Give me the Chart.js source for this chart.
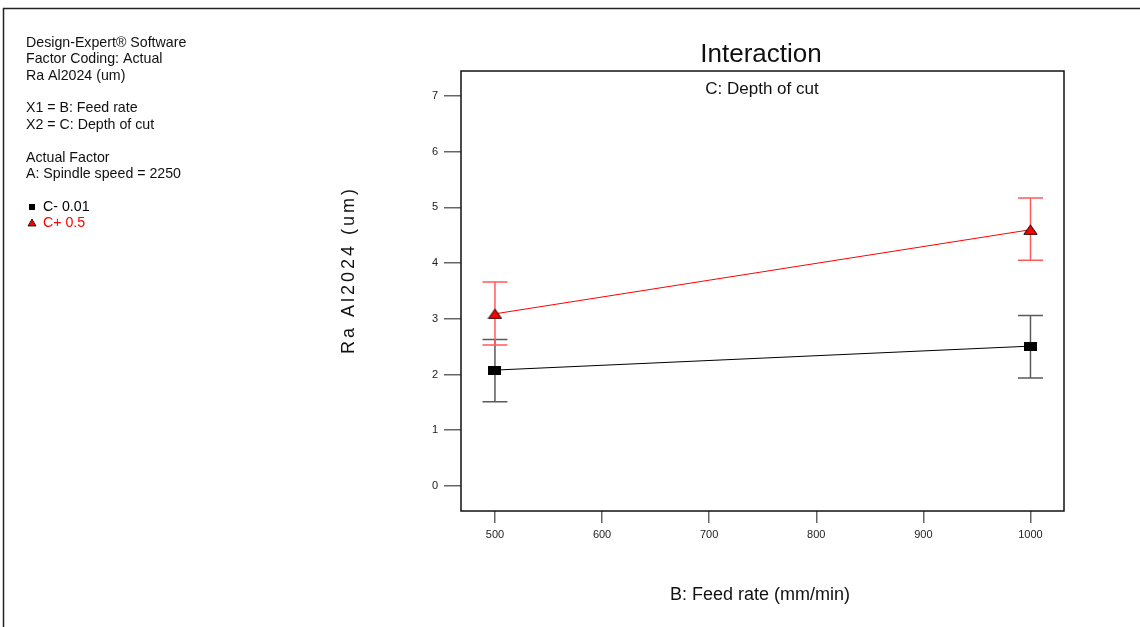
<!DOCTYPE html>
<html>
<head>
<meta charset="utf-8">
<script src="https://cdn.jsdelivr.net/npm/chart.js"></script>
<style>
  html, body { margin: 0; padding: 0; background: #fff; }
  canvas { display: block; }
</style>
</head>
<body>
<canvas id="chart" width="1140" height="627"></canvas>
<script>
'use strict';

// Factor levels (B: Feed rate) and predicted means with LSD bars
var feedRate = [500, 1000];
var cLowMean = [2.08, 2.51];
var cLowLower = [1.51, 1.94];
var cLowUpper = [2.63, 3.06];
var cHighMean = [3.09, 4.60];
var cHighLower = [2.53, 4.05];
var cHighUpper = [3.66, 5.17];

var xTicks = [500, 600, 700, 800, 900, 1000];
var yTicks = [0, 1, 2, 3, 4, 5, 6, 7];

var infoLines = [
  'Design-Expert\u00AE Software',
  'Factor Coding: Actual',
  'Ra Al2024 (um)',
  '',
  'X1 = B: Feed rate',
  'X2 = C: Depth of cut',
  '',
  'Actual Factor',
  'A: Spindle speed = 2250'
];

var FONT = '"Liberation Sans", Arial, Helvetica, sans-serif';

// marker images, the original markers are a bit wider than tall
var makeSquare = function() {
  var c = document.createElement('canvas');
  c.width = 13; c.height = 9;
  var g = c.getContext('2d');
  g.fillStyle = '#000';
  g.fillRect(0, 0, 13, 9);
  return c;
};

var makeTriangle = function() {
  var c = document.createElement('canvas');
  c.width = 15; c.height = 11;
  var g = c.getContext('2d');
  g.beginPath();
  g.moveTo(7.5, 0.8);
  g.lineTo(14.2, 10.3);
  g.lineTo(0.8, 10.3);
  g.closePath();
  g.fillStyle = '#ff0000';
  g.fill();
  g.strokeStyle = '#000';
  g.lineWidth = 1;
  g.stroke();
  return c;
};

var toPoints = function(ys) {
  return feedRate.map(function(x, i) { return { x: x, y: ys[i] }; });
};

/**
 * Error bars drawn from the data arrays through the chart scales.
 */
var errorBarPlugin = {
  id: 'errorBars',
  beforeDatasetsDraw: function(chart) {
    var ctx = chart.ctx;
    var xs = chart.scales.x;
    var ys = chart.scales.y;
    var bars = [
      { lo: cLowLower, hi: cLowUpper, color: '#5a5a5a' },
      { lo: cHighLower, hi: cHighUpper, color: '#ff5a5a' }
    ];
    ctx.save();
    ctx.lineWidth = 1.5;
    bars.forEach(function(b) {
      ctx.strokeStyle = b.color;
      feedRate.forEach(function(fr, i) {
        var px = xs.getPixelForValue(fr);
        var top = ys.getPixelForValue(b.hi[i]);
        var bot = ys.getPixelForValue(b.lo[i]);
        ctx.beginPath();
        ctx.moveTo(px, top); ctx.lineTo(px, bot);
        ctx.moveTo(px - 12.5, top); ctx.lineTo(px + 12.5, top);
        ctx.moveTo(px - 12.5, bot); ctx.lineTo(px + 12.5, bot);
        ctx.stroke();
      });
    });
    ctx.restore();
  }
};

/**
 * Frame, titles and the information block on the left.
 */
var decorPlugin = {
  id: 'decor',
  afterDraw: function(chart) {
    var ctx = chart.ctx;
    var a = chart.chartArea;
    ctx.save();

    // outer frame
    ctx.strokeStyle = '#222';
    ctx.lineWidth = 1.5;
    ctx.strokeRect(3.5, 8.5, chart.width + 20, chart.height + 20);

    // plot frame
    ctx.strokeStyle = '#111';
    ctx.lineWidth = 1.5;
    ctx.strokeRect(a.left, a.top, a.right - a.left, a.bottom - a.top);

    ctx.fillStyle = '#111';
    ctx.textAlign = 'center';
    ctx.textBaseline = 'middle';
    ctx.font = '26px ' + FONT;
    ctx.fillText('Interaction', 761, 55);
    ctx.font = '17px ' + FONT;
    ctx.fillText('C: Depth of cut', 762, 89);
    ctx.font = '18px ' + FONT;
    ctx.fillText('B: Feed rate (mm/min)', 760, 595);

    // y title, letter spaced
    ctx.save();
    ctx.translate(349, 270);
    ctx.rotate(-Math.PI / 2);
    ctx.font = '18px ' + FONT;
    ctx.letterSpacing = '3px';
    ctx.fillText('Ra Al2024 (um)', 0, 0);
    ctx.restore();

    // info block
    ctx.textAlign = 'left';
    ctx.font = '14.2px ' + FONT;
    var lineY = [43, 59, 76, 0, 108, 125, 0, 158, 174];
    infoLines.forEach(function(t, i) {
      if (t) ctx.fillText(t, 26, lineY[i]);
    });

    // legend
    ctx.fillStyle = '#000';
    ctx.fillRect(29, 204, 6, 6);
    ctx.fillText('C- 0.01', 43, 207);
    ctx.beginPath();
    ctx.moveTo(32, 219); ctx.lineTo(36, 226); ctx.lineTo(28, 226); ctx.closePath();
    ctx.fillStyle = '#ff0000';
    ctx.fill();
    ctx.strokeStyle = '#000';
    ctx.lineWidth = 0.8;
    ctx.stroke();
    ctx.fillStyle = '#ff0000';
    ctx.fillText('C+ 0.5', 43, 223);

    ctx.restore();
  }
};

var ctx = document.getElementById('chart').getContext('2d');
new Chart(ctx, {
  type: 'scatter',
  data: {
    datasets: [{
      label: 'C- 0.01',
      data: toPoints(cLowMean),
      showLine: true,
      borderColor: '#000',
      borderWidth: 1,
      pointStyle: makeSquare(),
      pointRadius: 7
    }, {
      label: 'C+ 0.5',
      data: toPoints(cHighMean),
      showLine: true,
      borderColor: '#ff0000',
      borderWidth: 1,
      pointStyle: makeTriangle(),
      pointRadius: 7
    }]
  },
  options: {
    responsive: false,
    animation: false,
    layout: { padding: { left: 0, right: 76, top: 71, bottom: 0 } },
    plugins: {
      legend: { display: false },
      tooltip: { enabled: false }
    },
    scales: {
      x: {
        type: 'linear',
        min: 468.3,
        max: 1031.3,
        afterBuildTicks: function(scale) {
          scale.ticks = xTicks.map(function(v) { return { value: v }; });
        },
        afterFit: function(scale) { scale.height = 116; },
        border: { display: false },
        grid: { drawOnChartArea: false, tickLength: 12, color: '#666', lineWidth: 1.5 },
        ticks: {
          padding: 5, color: '#222', font: { family: FONT, size: 11 }, maxRotation: 0,
          callback: function(v) { return String(v); }
        }
      },
      y: {
        min: -0.45,
        max: 7.45,
        afterBuildTicks: function(scale) {
          scale.ticks = yTicks.map(function(v) { return { value: v }; });
        },
        afterFit: function(scale) { scale.width = 461; },
        border: { display: false },
        grid: { drawOnChartArea: false, tickLength: 17, color: '#666', lineWidth: 1.5 },
        ticks: { padding: 6, color: '#222', font: { family: FONT, size: 11 } }
      }
    }
  },
  plugins: [errorBarPlugin, decorPlugin]
});
</script>
</body>
</html>
